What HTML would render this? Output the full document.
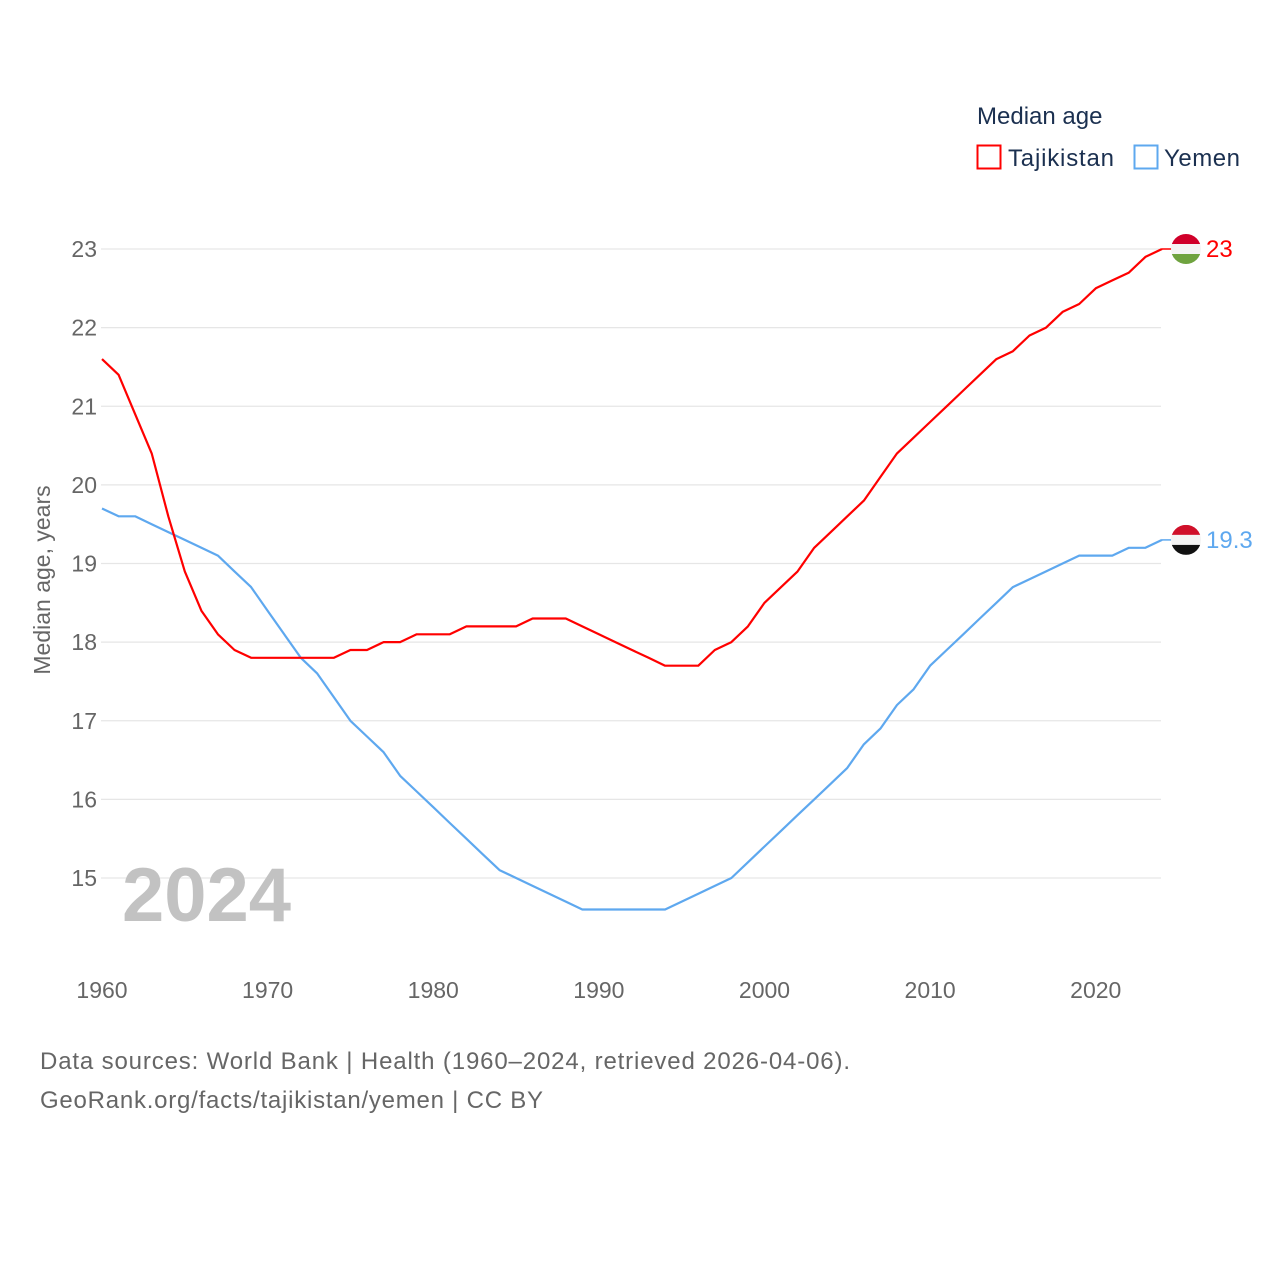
<!DOCTYPE html>
<html><head><meta charset="utf-8"><style>
html,body{margin:0;padding:0;background:#fff;}
svg{display:block;font-family:"Liberation Sans",sans-serif;}
</style></head><body>
<svg id="chart" width="1280" height="1280" viewBox="0 0 1280 1280">
<g id="grid"></g>
<g id="yticks"></g>
<g id="xticks"></g>
<text x="50" y="580" transform="rotate(-90 50 580)" text-anchor="middle" font-size="23" fill="#666">Median age, years</text>
<text x="122" y="921" font-size="76" font-weight="bold" fill="#c2c2c2">2024</text>
<g id="lines"></g>
<g>
<text x="977" y="124" font-size="24" fill="#1b3050">Median age</text>
<g><rect x="977.5" y="145.5" width="23" height="23" fill="none" stroke="#ff0000" stroke-width="2"/><text x="1008" y="166" font-size="24" fill="#1b3050" textLength="106">Tajikistan</text></g>
<g><rect x="1134.5" y="145.5" width="23" height="23" fill="none" stroke="#5ea8ef" stroke-width="2"/><text x="1164" y="166" font-size="24" fill="#1b3050" textLength="76">Yemen</text></g>
</g>
<g id="endlabels"></g>
<text x="40" y="1069" font-size="24" fill="#666" textLength="810">Data sources: World Bank | Health (1960–2024, retrieved 2026-04-06).</text>
<text x="40" y="1108" font-size="24" fill="#666" textLength="503">GeoRank.org/facts/tajikistan/yemen | CC BY</text>
</svg>
<script>
const years = [];
for (let y = 1960; y <= 2024; y++) years.push(y);
const tajikistan = [21.6,21.4,20.9,20.4,19.6,18.9,18.4,18.1,17.9,17.8,17.8,17.8,17.8,17.8,17.8,17.9,17.9,18.0,18.0,18.1,18.1,18.1,18.2,18.2,18.2,18.2,18.3,18.3,18.3,18.2,18.1,18.0,17.9,17.8,17.7,17.7,17.7,17.9,18.0,18.2,18.5,18.7,18.9,19.2,19.4,19.6,19.8,20.1,20.4,20.6,20.8,21.0,21.2,21.4,21.6,21.7,21.9,22.0,22.2,22.3,22.5,22.6,22.7,22.9,23.0];
const yemen = [19.7,19.6,19.6,19.5,19.4,19.3,19.2,19.1,18.9,18.7,18.4,18.1,17.8,17.6,17.3,17.0,16.8,16.6,16.3,16.1,15.9,15.7,15.5,15.3,15.1,15.0,14.9,14.8,14.7,14.6,14.6,14.6,14.6,14.6,14.6,14.7,14.8,14.9,15.0,15.2,15.4,15.6,15.8,16.0,16.2,16.4,16.7,16.9,17.2,17.4,17.7,17.9,18.1,18.3,18.5,18.7,18.8,18.9,19.0,19.1,19.1,19.1,19.2,19.2,19.3];
const yTicks = [15,16,17,18,19,20,21,22,23];
const xTicks = [1960,1970,1980,1990,2000,2010,2020];
const NS = "http://www.w3.org/2000/svg";
const X = v => 102 + (v - 1960) * (1162 - 102) / 64;
const Y = v => 878 - (v - 15) * (878 - 249) / 8;
function mk(tag, attrs, parent){const e=document.createElementNS(NS,tag);for(const k in attrs)e.setAttribute(k,attrs[k]);parent.appendChild(e);return e;}
const grid=document.getElementById('grid'), yt=document.getElementById('yticks'), xt=document.getElementById('xticks');
yTicks.forEach(t=>{
  const l=mk('line',{x1:101,x2:1161,y1:Y(t),y2:Y(t),stroke:'#e6e6e6','stroke-width':1.3},grid);
  
  
  const tx=mk('text',{x:97,y:Y(t)+8,'text-anchor':'end','font-size':23,fill:'#666'},yt);
  tx.textContent=t;
  
  
});
xTicks.forEach(t=>{
  const tx=mk('text',{x:X(t),y:998,'text-anchor':'middle','font-size':23,fill:'#666'},xt);
  tx.textContent=t;
  
  
});
const lines=document.getElementById('lines');
function drawLine(vals,color,name){
  const d=vals.map((v,i)=>(i?'L':'M')+X(years[i]).toFixed(1)+','+Y(v).toFixed(1)).join(' ');
  const p=mk('path',{d:d,fill:'none',stroke:color,'stroke-width':2.2,'stroke-linejoin':'round'},lines);
  
  
}
drawLine(yemen,'#5ea8ef','yemen-line');
drawLine(tajikistan,'#ff0000','tajikistan-line');
const el=document.getElementById('endlabels');
function endLabel(vals,color,name,stripes){
  const v=vals[vals.length-1], cy=Y(v), cx=1186;
  mk('line',{x1:1162,x2:1172,y1:cy,y2:cy,stroke:color,'stroke-width':1.5},el);
  const g=mk('g',{},el);
  
  
  const id='clip-'+name;
  const cp=mk('clipPath',{id:id},g); mk('circle',{cx:cx,cy:cy,r:15},cp);
  stripes.forEach((c,i)=>mk('rect',{x:cx-15,y:cy-15+i*10,width:30,height:10,fill:c,'clip-path':'url(#'+id+')'},g));
  const t=mk('text',{x:1206,y:cy+8,'font-size':24,fill:color},el);
  t.textContent=String(v).replace(/\.0$/,'');
  
  
}
endLabel(tajikistan,'#ff0000','tajikistan',['#d0002a','#f4f4f4','#6fa33f']);
endLabel(yemen,'#5ea8ef','yemen',['#d0102a','#f4f4f4','#111111']);
</script>
</body></html>
